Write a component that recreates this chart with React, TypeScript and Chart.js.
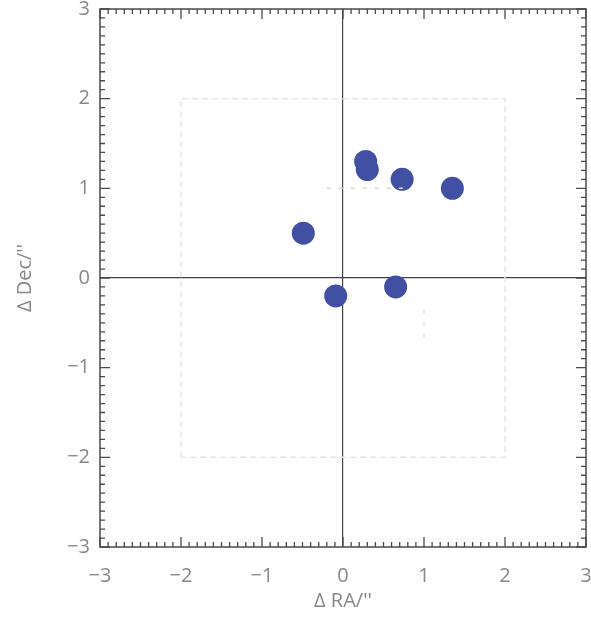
import React, { useEffect, useRef } from "react";
import { Chart, registerables } from "chart.js";

Chart.register(...registerables);

// Offsets (arcsec)
const raOffsets = [0.28, 0.3, 0.73, 1.35, -0.49, -0.09, 0.65];
const decOffsets = [1.3, 1.21, 1.1, 1.0, 0.5, -0.2, -0.1];

// Faint reference box
const boxRA = [-2, -2, 2, 2, -2];
const boxDec = [-2, 2, 2, -2, -2];
// Faint short dashed guides
const guideRA = [-0.2, 0.8];
const guideDec = [1, 1];
const guide2RA = [1, 1];
const guide2Dec = [-0.35, -0.75];

const axisMin = -3;
const axisMax = 3;
const tickValues = [-3, -2, -1, 0, 1, 2, 3];

const fmt = (v: number) => (v < 0 ? "\u2212" + Math.abs(v) : String(v));

const frameTicks = {
  id: "frameTicks",
  afterDraw(chart: any) {
    const { ctx, chartArea } = chart;
    const xs = chart.scales.x;
    const ys = chart.scales.y;
    const { left, right, top, bottom } = chartArea;
    ctx.save();
    ctx.strokeStyle = "#4a4a4a";
    ctx.lineWidth = 1.5;
    ctx.strokeRect(left, top, right - left, bottom - top);
    ctx.lineWidth = 1.3;
    ctx.beginPath();
    for (let i = 0; i <= 60; i++) {
      const v = axisMin + i * 0.1;
      const major = i % 10 === 0;
      const len = major ? 10 : 5;
      const px = xs.getPixelForValue(v);
      const py = ys.getPixelForValue(v);
      ctx.moveTo(px, bottom);
      ctx.lineTo(px, bottom - len);
      ctx.moveTo(px, top);
      ctx.lineTo(px, top + len);
      ctx.moveTo(left, py);
      ctx.lineTo(left + len, py);
      ctx.moveTo(right, py);
      ctx.lineTo(right - len, py);
    }
    ctx.stroke();
    ctx.restore();
  },
};

export default function App() {
  const ref = useRef<HTMLCanvasElement>(null);
  useEffect(() => {
    document.body.style.margin = "0";
    const toPts = (xs: number[], ys: number[]) => xs.map((x, i) => ({ x, y: ys[i] }));
    const font = { family: "'Open Sans', 'DejaVu Sans', sans-serif", size: 20 };
    const zeroLine = (c: any) => (c.tick && c.tick.value === 0 ? "#444" : "transparent");
    const chart = new Chart(ref.current!, {
      type: "scatter",
      data: {
        datasets: [
          {
            data: toPts(boxRA, boxDec),
            showLine: true,
            borderColor: "#e6e6e6",
            borderWidth: 1.5,
            borderDash: [6, 4],
            pointRadius: 0,
          },
          {
            data: toPts(guideRA, guideDec),
            showLine: true,
            borderColor: "#d8d8d8",
            borderWidth: 1.5,
            borderDash: [4, 8],
            pointRadius: 0,
          },
          {
            data: toPts(guide2RA, guide2Dec),
            showLine: true,
            borderColor: "#e0e0e0",
            borderWidth: 1.5,
            borderDash: [4, 8],
            pointRadius: 0,
          },
          {
            data: toPts(raOffsets, decOffsets),
            backgroundColor: "#4250a3",
            borderWidth: 0,
            pointRadius: 11.5,
            pointHoverRadius: 11.5,
          },
        ],
      },
      options: {
        animation: false,
        responsive: true,
        maintainAspectRatio: false,
        layout: { autoPadding: false, padding: { top: 9, right: 5, left: 0, bottom: 0 } },
        plugins: { legend: { display: false }, tooltip: { enabled: false } },
        scales: {
          x: {
            type: "linear",
            min: axisMin,
            max: axisMax,
            afterBuildTicks: (s: any) => {
              s.ticks = tickValues.map((v) => ({ value: v }));
            },
            afterFit: (s: any) => {
              s.height = 74;
              s.paddingLeft = 0;
              s.paddingRight = 0;
            },
            border: { display: false },
            grid: {
              drawTicks: true,
              tickLength: 14,
              tickColor: "transparent",
              color: zeroLine,
              lineWidth: 1.2,
            },
            ticks: {
              padding: 3,
              color: "#888",
              font,
              callback: (v: any) => fmt(Number(v)),
              maxRotation: 0,
            },
            title: {
              display: true,
              text: "\u0394 RA/''",
              color: "#888",
              font,
              padding: { top: 0, bottom: 8 },
            },
          },
          y: {
            type: "linear",
            min: axisMin,
            max: axisMax,
            afterBuildTicks: (s: any) => {
              s.ticks = tickValues.map((v) => ({ value: v }));
            },
            afterFit: (s: any) => {
              s.width = 100;
              s.paddingTop = 0;
              s.paddingBottom = 0;
            },
            border: { display: false },
            grid: {
              drawTicks: true,
              tickLength: 7,
              tickColor: "transparent",
              color: zeroLine,
              lineWidth: 1.2,
            },
            ticks: {
              padding: 3,
              color: "#888",
              font,
              callback: (v: any) => fmt(Number(v)),
            },
            title: {
              display: true,
              text: "\u0394 Dec/''",
              color: "#888",
              font,
              padding: { top: 13, bottom: 0 },
            },
          },
        },
      },
      plugins: [frameTicks],
    } as any);
    return () => chart.destroy();
  }, []);
  return (
    <div style={{ position: "absolute", left: 0, top: 0, width: 591, height: 621 }}>
      <canvas ref={ref} />
    </div>
  );
}
